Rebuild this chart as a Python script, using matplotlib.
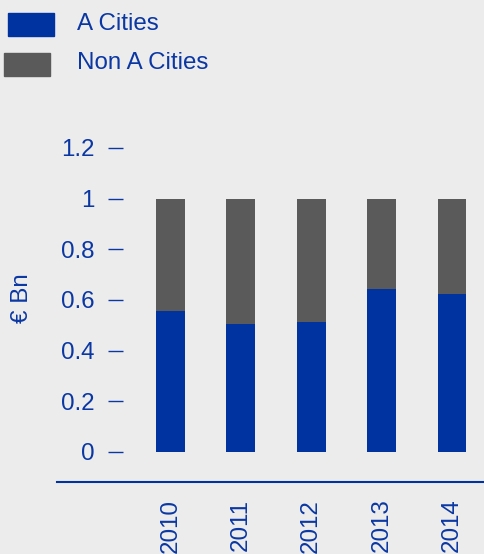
import matplotlib.pyplot as plt
from matplotlib.patches import Rectangle
import numpy as np

plt.rcParams['font.family'] = ['Liberation Sans', 'DejaVu Sans']

years = ['2010', '2011', '2012', '2013', '2014']
a_cities = [0.557, 0.506, 0.514, 0.644, 0.625]
non_a_cities = [1 - v for v in a_cities]
series_names = ['A Cities', 'Non A Cities']
y_ticks = [0, 0.2, 0.4, 0.6, 0.8, 1, 1.2]
y_tick_labels = ['0', '0.2', '0.4', '0.6', '0.8', '1', '1.2']

blue = '#0033a0'
gray = '#5a5a5a'
text_blue = '#0a37a3'
bg = '#ececec'
fs = 17.4

W, H = 484, 554
fig = plt.figure(figsize=(W / 100, H / 100), dpi=100, facecolor=bg)

# axes box in pixels: left 57, right 484, y=0 at 452, y=1.2 at 148
ax = fig.add_axes([57 / W, (H - 452) / H, 427 / W, 304 / H], facecolor=bg)

x = np.arange(len(years))
ax.bar(x, a_cities, width=0.41, color=blue)
ax.bar(x, non_a_cities, width=0.41, bottom=a_cities, color=gray)

ax.set_xlim(-1.612, 4.455)
ax.set_ylim(0, 1.2)

for s in ['top', 'right']:
    ax.spines[s].set_visible(False)
ax.spines['left'].set_position(('axes', 66 / 427))
ax.spines['left'].set_color('none')
ax.spines['bottom'].set_position(('outward', 21.6))   # 30 px below zero
ax.spines['bottom'].set_color(blue)
ax.spines['bottom'].set_linewidth(1.5)

ax.set_yticks(y_ticks)
ax.set_yticklabels(y_tick_labels)
ax.tick_params(axis='y', direction='out', length=10.8, width=1.0,
               color=text_blue, pad=9.4, labelsize=fs, labelcolor=text_blue)

ax.set_xticks(x)
ax.set_xticklabels(years, rotation=90)
ax.tick_params(axis='x', length=0, pad=12, labelsize=fs, labelcolor=text_blue)

ax.set_ylabel('€ Bn', fontsize=fs, color=text_blue, va='center')
ax.yaxis.set_label_coords(-0.083, 0.5066)

# legend drawn in figure pixels
leg_colors = [blue, gray]
leg_boxes = [(8, 13), (4, 53)]
leg_text_y = [24, 63]
for name, c, (bx, by), ty in zip(series_names, leg_colors, leg_boxes, leg_text_y):
    fig.patches.append(Rectangle((bx / W, 1 - (by + 23) / H), 46 / W, 23 / H,
                                 transform=fig.transFigure, color=c))
    fig.text(77 / W, 1 - ty / H, name, fontsize=fs, color=text_blue,
             ha='left', va='center')

fig.savefig('out.png', dpi=100, facecolor=bg)
